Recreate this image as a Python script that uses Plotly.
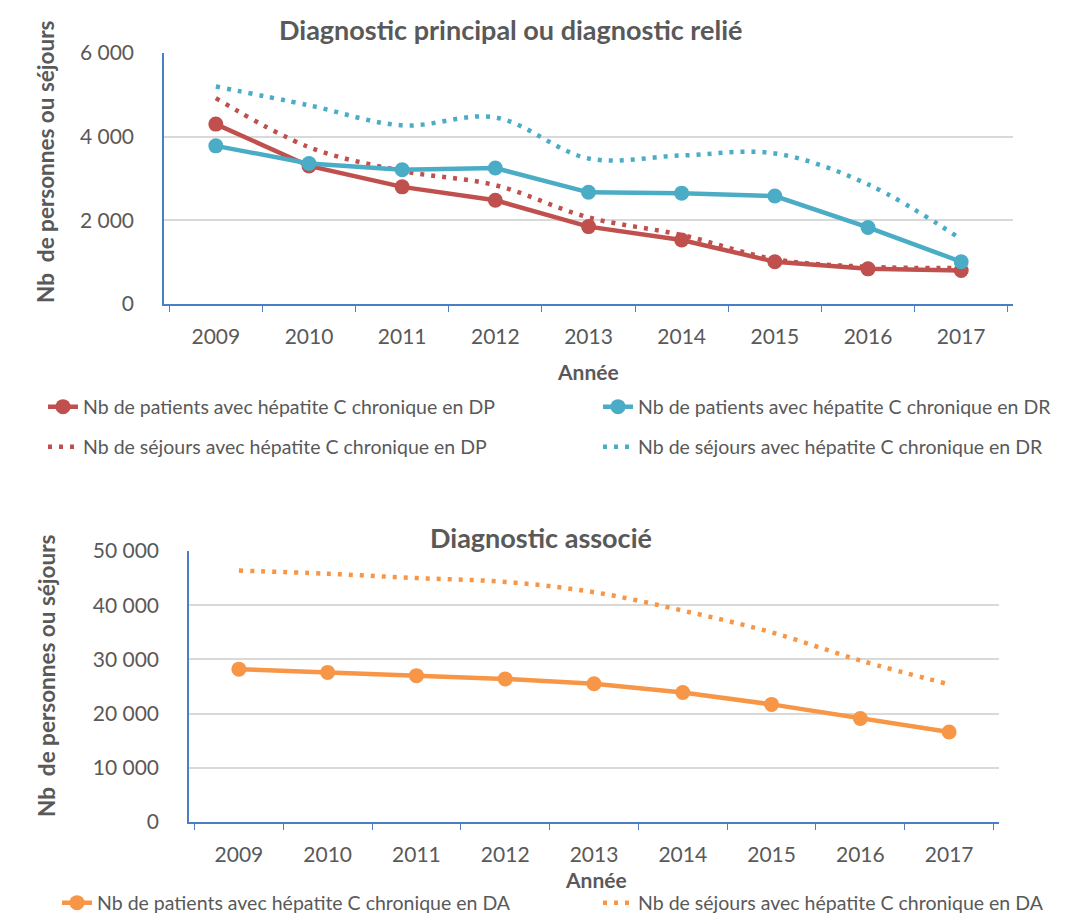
import plotly.graph_objects as go
from plotly.subplots import make_subplots

# Données
annees = ["2009", "2010", "2011", "2012", "2013", "2014", "2015", "2016", "2017"]
patients_dp = [4300, 3300, 2800, 2480, 1850, 1530, 1010, 840, 800]
patients_dr = [3780, 3360, 3210, 3250, 2670, 2650, 2580, 1830, 1010]
sejours_dp = [4920, 3750, 3180, 2840, 2070, 1650, 1070, 890, 860]
sejours_dr = [5200, 4750, 4270, 4460, 3480, 3550, 3600, 2860, 1550]
patients_da = [28200, 27600, 27000, 26400, 25500, 23900, 21700, 19100, 16600]
sejours_da = [46400, 45800, 45000, 44300, 42400, 39000, 35000, 29800, 25400]

RED = "#C0504D"
BLUE = "#4BACC6"
ORANGE = "#F79646"
AXIS = "#4A7EC7"
GRID = "#D9D9D9"
TEXT = "#595959"
FONT = "Lato, sans-serif"
# la page html ajoute une marge de 8 px autour de la figure
PAD = 8
W, H = 1084 - 2 * PAD, 923 - 2 * PAD


def px_x(v):
    return (v - PAD) / W


def px_y(v):
    return 1 - (v - PAD) / H


def solid(y, name, color, legend):
    return go.Scatter(
        x=annees, y=y, name=name, mode="lines+markers", legend=legend,
        line=dict(color=color, width=4.5),
        marker=dict(color=color, size=15, symbol="circle"),
    )


def dotted(y, name, color, legend):
    # courbe lissée en pointillés, comme dans Excel
    return go.Scatter(
        x=annees, y=y, name=name, mode="lines", legend=legend,
        line=dict(color=color, width=4.5, dash="4px,7px", shape="spline", smoothing=1),
    )


fig = make_subplots(rows=2, cols=1)

fig.add_trace(dotted(sejours_dr, "Nb de séjours avec hépatite C chronique en DR", BLUE, "legend4"), 1, 1)
fig.add_trace(dotted(sejours_dp, "Nb de séjours avec hépatite C chronique en DP", RED, "legend3"), 1, 1)
fig.add_trace(solid(patients_dp, "Nb de patients avec hépatite C chronique en DP", RED, "legend"), 1, 1)
fig.add_trace(solid(patients_dr, "Nb de patients avec hépatite C chronique en DR", BLUE, "legend2"), 1, 1)
fig.add_trace(solid(patients_da, "Nb de patients avec hépatite C chronique en DA", ORANGE, "legend5"), 2, 1)
fig.add_trace(dotted(sejours_da, "Nb de séjours avec hépatite C chronique en DA", ORANGE, "legend6"), 2, 1)
fig.update_traces(showlegend=True)


def leg(x, y):
    # référence "container" : la légende ne repousse pas les marges
    return dict(
        x=px_x(x), y=px_y(y), xref="container", yref="container",
        xanchor="left", yanchor="middle", visible=True,
        font=dict(family=FONT, size=19.5, color=TEXT), bgcolor="rgba(0,0,0,0)",
    )


fig.update_layout(
    width=W, height=H,
    margin=dict(l=0, r=0, t=0, b=0, autoexpand=False),
    plot_bgcolor="white", paper_bgcolor="white",
    showlegend=True,
    separators=", ",
    font=dict(family=FONT, size=20, color=TEXT),
    legend=leg(43, 407),
    legend2=leg(598, 407),
    legend3=leg(43, 447),
    legend4=leg(598, 447),
    legend5=leg(57, 903),
    legend6=leg(598, 903),
    xaxis=dict(domain=[px_x(164), px_x(1013)]),
    yaxis=dict(domain=[px_y(304), px_y(53)], range=[0, 6000], dtick=2000),
    xaxis2=dict(domain=[px_x(189), px_x(999)]),
    yaxis2=dict(domain=[px_y(822), px_y(551)], range=[0, 50000], dtick=10000),
)

fig.update_xaxes(
    type="category", tickson="boundaries", ticks="outside", ticklen=6,
    tickcolor=AXIS, showline=True, linecolor=AXIS, linewidth=1.5,
    showgrid=False, ticklabelstandoff=13, tickfont=dict(family=FONT, size=21, color=TEXT),
    automargin=False,
)
fig.update_yaxes(
    tickformat=",d", showgrid=True, gridcolor=GRID, gridwidth=1.5,
    showline=True, linecolor=AXIS, linewidth=1.5, zeroline=False,
    ticks="", ticklabelstandoff=24, tickfont=dict(family=FONT, size=21, color=TEXT),
    automargin=False,
)

annotations = [
    ("<b>Diagnostic principal ou diagnostic relié</b>", 510, 30, 27, 0),
    ("<b>Diagnostic associé</b>", 541, 537, 27, 0),
    ("<b>Année</b>", 588, 372, 21, 0),
    ("<b>Année</b>", 596, 879, 21, 0),
    ("<b>Nb  de personnes ou séjours</b>", 46, 162, 22.5, -90),
    ("<b>Nb  de personnes ou séjours</b>", 46, 676, 22.5, -90),
]
for text, x, y, size, angle in annotations:
    fig.add_annotation(
        text=text, x=px_x(x), y=px_y(y), xref="paper", yref="paper",
        xanchor="center", yanchor="middle", showarrow=False, textangle=angle,
        font=dict(family=FONT, size=size, color=TEXT),
    )

fig.write_html("out.html")
